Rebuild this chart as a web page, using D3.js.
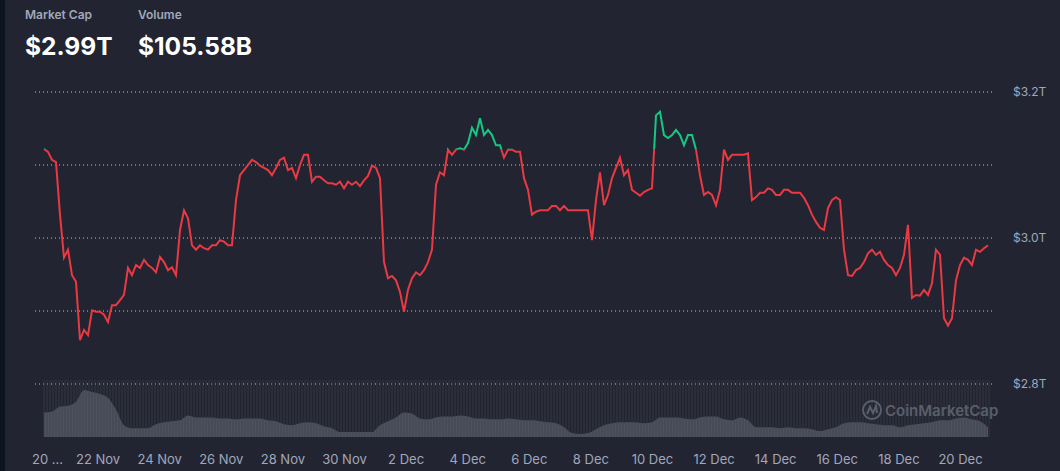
<!DOCTYPE html>
<html>
<head>
<meta charset="utf-8">
<script src="https://cdn.jsdelivr.net/npm/d3@7"></script>
<style>
  body { margin: 0; background: #222531; overflow: hidden; }
  svg { display: block; font-family: Inter, "Noto Sans", sans-serif; }
</style>
</head>
<body>
<svg id="chart" width="1060" height="471"></svg>
<script>
// market cap in trillions, one value every ~3.1 hours from 20 Nov 06:00
var marketCap = [3.122,3.118,3.107,3.104,3.032,2.973,2.984,2.949,2.940,2.860,2.874,2.867,2.901,2.899,2.899,2.895,
  2.885,2.908,2.908,2.915,2.922,2.959,2.949,2.963,2.959,2.970,2.963,2.959,2.953,2.974,2.967,2.956,2.960,2.949,
  3.011,3.038,3.027,2.990,2.984,2.990,2.986,2.984,2.990,2.990,2.997,2.995,2.990,2.990,3.052,3.086,3.093,3.100,
  3.107,3.104,3.099,3.096,3.093,3.086,3.096,3.107,3.110,3.093,3.096,3.082,3.100,3.114,3.114,3.077,3.084,3.084,
  3.079,3.075,3.075,3.073,3.077,3.068,3.077,3.073,3.077,3.071,3.079,3.085,3.099,3.096,3.082,2.967,2.945,2.948,
  2.942,2.926,2.899,2.929,2.945,2.953,2.949,2.956,2.967,2.984,3.073,3.090,3.086,3.121,3.114,3.121,3.123,3.121,
  3.130,3.151,3.141,3.164,3.141,3.148,3.141,3.127,3.127,3.110,3.121,3.121,3.118,3.118,3.082,3.066,3.032,3.036,
  3.038,3.038,3.038,3.044,3.044,3.038,3.044,3.038,3.038,3.038,3.038,3.038,3.038,2.997,3.052,3.090,3.045,3.059,
  3.082,3.096,3.110,3.086,3.093,3.066,3.062,3.058,3.063,3.066,3.068,3.168,3.173,3.141,3.137,3.141,3.148,3.141,
  3.127,3.141,3.141,3.121,3.086,3.059,3.063,3.059,3.045,3.066,3.121,3.107,3.114,3.114,3.114,3.114,3.116,3.052,
  3.056,3.062,3.062,3.068,3.066,3.059,3.059,3.066,3.066,3.062,3.062,3.062,3.055,3.045,3.032,3.022,3.014,3.011,
  3.041,3.052,3.056,3.052,2.984,2.949,2.948,2.956,2.959,2.967,2.979,2.984,2.977,2.981,2.970,2.963,2.959,2.949,
  2.959,2.977,3.018,2.918,2.922,2.921,2.929,2.922,2.938,2.984,2.977,2.890,2.880,2.890,2.942,2.963,2.973,2.970,
  2.963,2.984,2.981,2.986,2.990];

// volume, relative units, one value every ~6 hours
var volume = [25,26,31,32,36,48,46,44,40,28,12,9,9,9,13,15,16,17,22,20,20,20,19,19,18,19,19,19,17,16,13,12,
  14,15,14,11,9,5,5,5,5,5,12,16,20,25,24,19,18,20,21,21,22,21,19,19,18,18,19,18,17,17,16,15,14,10,4,3,4,8,
  12,14,15,15,15,14,15,20,20,20,19,18,20,21,21,18,17,20,17,10,10,10,9,10,9,9,8,6,8,10,14,15,15,14,13,12,12,
  10,12,13,14,15,17,17,19,20,18,16,10];

var yTicks = [2.8, 3.0, 3.2];
var gridLines = [2.8, 2.9, 3.0, 3.1, 3.2];
var dateTicks = ["2024-11-20","2024-11-22","2024-11-24","2024-11-26","2024-11-28","2024-11-30","2024-12-02",
  "2024-12-04","2024-12-06","2024-12-08","2024-12-10","2024-12-12","2024-12-14","2024-12-16","2024-12-18","2024-12-20"];

var svg = d3.select("#chart");
var start = new Date(2024, 10, 20, 6, 15);
var stepMs = 4 / 30.8 * 864e5;
var end = new Date(start.getTime() + (marketCap.length - 1) * stepMs);

var x = d3.scaleTime().domain([start, end]).range([44, 988]);
var y = d3.scaleLinear().domain([2.8, 3.2]).range([384, 92]);
var yv = d3.scaleLinear().domain([0, 50]).range([437, 388]);

svg.append("rect").attr("width", 5).attr("height", 471).attr("fill", "#0d1421");

// header
var hdr = [["Market Cap", "$2.99T", 25], ["Volume", "$105.58B", 138]];
hdr.forEach(function(h) {
  svg.append("text").attr("x", h[2]).attr("y", 19).attr("fill", "#a1a7bb")
    .attr("font-size", 12).attr("font-weight", 600).text(h[0]);
  svg.append("text").attr("x", h[2]).attr("y", 55).attr("fill", "#fff")
    .attr("font-size", 24.5).attr("font-weight", 700).text(h[1]);
});

// grid
svg.selectAll(".grid").data(gridLines).enter().append("line")
  .attr("x1", 35).attr("x2", 995)
  .attr("y1", function(d) { return y(d); }).attr("y2", function(d) { return y(d); })
  .attr("stroke", "#e6e8ee").attr("stroke-width", 1).attr("stroke-dasharray", "1,3").attr("opacity", 0.8);

svg.selectAll(".ylab").data(yTicks).enter().append("text")
  .attr("x", 1013).attr("y", function(d) { return y(d) + 4; })
  .attr("fill", "#a1a7bb").attr("font-size", 12)
  .text(function(d) { return "$" + d.toFixed(1) + "T"; });

// volume bars
var vStep = (988 - 44) / (volume.length - 1);
var vArea = d3.area()
  .x(function(d, i) { return 44 + i * vStep; })
  .y0(437).y1(function(d) { return yv(d); })
  .curve(d3.curveMonotoneX);
svg.append("path").datum(volume).attr("d", vArea).attr("fill", "#4d515e");
svg.append("g").selectAll("line").data(d3.range(44, 990, 3)).enter().append("line")
  .attr("x1", function(d) { return d; }).attr("x2", function(d) { return d; })
  .attr("y1", 380).attr("y2", 437).attr("stroke", "#3c404c").attr("stroke-width", 0.7);

// watermark
var wm = svg.append("g").attr("transform", "translate(872,410)").attr("fill", "none")
  .attr("stroke", "#5a5e6b").attr("stroke-width", 2);
wm.append("circle").attr("r", 9);
wm.append("path").attr("d", "M-5,4 L-2,-3 L1,3 L4,-4 L5,3");
svg.append("text").attr("x", 885).attr("y", 416).attr("fill", "#5a5e6b")
  .attr("font-size", 15).attr("font-weight", 600).text("CoinMarketCap");

// price line split around the opening value
var base = y(marketCap[0]);
var defs = svg.append("defs");
defs.append("clipPath").attr("id", "above").append("rect")
  .attr("x", 0).attr("y", 0).attr("width", 1060).attr("height", base);
defs.append("clipPath").attr("id", "below").append("rect")
  .attr("x", 0).attr("y", base).attr("width", 1060).attr("height", 471 - base);

var line = d3.line()
  .x(function(d, i) { return x(new Date(start.getTime() + i * stepMs)); })
  .y(function(d) { return y(d); });
svg.append("path").datum(marketCap).attr("d", line).attr("fill", "none")
  .attr("stroke", "#ea3943").attr("stroke-width", 2).attr("clip-path", "url(#below)");
svg.append("path").datum(marketCap).attr("d", line).attr("fill", "none")
  .attr("stroke", "#16c784").attr("stroke-width", 2).attr("clip-path", "url(#above)");

// x axis
var fmt = d3.timeFormat("%-d %b");
var xAxis = d3.axisBottom(x)
  .tickValues(dateTicks.map(function(s) { return d3.timeParse("%Y-%m-%d")(s); }))
  .tickFormat(function(d, i) { return i === 0 ? "20 ..." : fmt(d); })
  .tickSize(0).tickPadding(0);
var gx = svg.append("g").attr("transform", "translate(0,464)").call(xAxis);
gx.select(".domain").remove();
gx.selectAll("text").attr("fill", "#a1a7bb").attr("font-size", 13)
  .attr("font-family", "Inter, 'Noto Sans', sans-serif").attr("dy", 0);
gx.select(".tick text").attr("x", 11);
</script>
</body>
</html>
